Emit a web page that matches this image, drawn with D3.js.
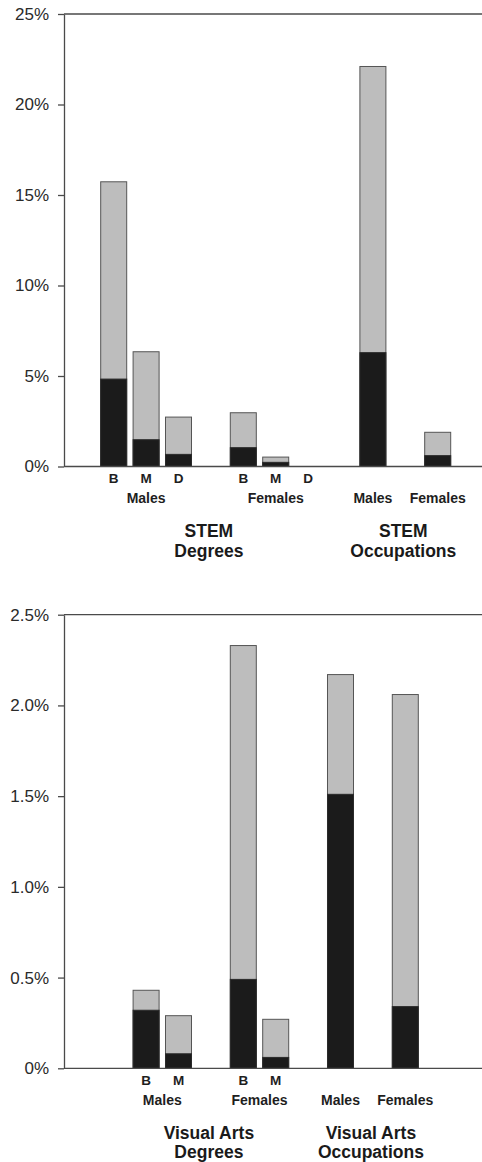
<!DOCTYPE html>
<html><head><meta charset="utf-8">
<script src="https://cdn.jsdelivr.net/npm/d3@7"></script>
<style>
html,body{margin:0;padding:0;background:#fff;}
svg{display:block;}
text{font-family:"Liberation Sans",Arial,Helvetica,sans-serif;}
</style></head>
<body>
<svg id="chart" width="482" height="1162"></svg>
<script>
// ---------- DATA ----------
// STEM panel (percent)
const stemBars   = ["Males B","Males M","Males D","Females B","Females M","Females D","Occ Males","Occ Females"];
const stemTotal  = [15.73, 6.34, 2.73, 2.97, 0.52, 0, 22.1, 1.89];
const stemDark   = [4.83, 1.48, 0.67, 1.04, 0.23, 0, 6.29, 0.60];
const stemBarLabels = ["B","M","D","B","M","D","",""];
const stemTicks  = [0, 5, 10, 15, 20, 25];
const stemTickLabels = ["0%","5%","10%","15%","20%","25%"];

// Visual Arts panel (percent)
const artBars    = ["Males B","Males M","Females B","Females M","Occ Males","Occ Females"];
const artTotal   = [0.43, 0.29, 2.33, 0.27, 2.17, 2.06];
const artDark    = [0.32, 0.08, 0.49, 0.06, 1.51, 0.34];
const artBarLabels = ["B","M","B","M","",""];
const artTicks   = [0, 0.5, 1.0, 1.5, 2.0, 2.5];
const artTickLabels = ["0%","0.5%","1.0%","1.5%","2.0%","2.5%"];

// group labels (text + member bars they sit under)
const stemGroups = [
  {text:"Males",   members:["Males B","Males M","Males D"]},
  {text:"Females", members:["Females B","Females M","Females D"]},
  {text:"Males",   members:["Occ Males"]},
  {text:"Females", members:["Occ Females"]}
];
const stemTitles = [
  {lines:["STEM","Degrees"], between:["Males M","Females M"]},
  {lines:["STEM","Occupations"], between:["Occ Males","Occ Females"]}
];
const artGroups = [
  {text:"Males",   members:["Males B","Males M"]},
  {text:"Females", members:["Females B","Females M"]},
  {text:"Males",   members:["Occ Males"]},
  {text:"Females", members:["Occ Females"]}
];
const artTitles = [
  {lines:["Visual Arts","Degrees"], between:["Males B","Females M"]},
  {lines:["Visual Arts","Occupations"], between:["Occ Males","Occ Females"]}
];

// ---------- LAYOUT (slot order incl. gaps) ----------
const stemSlots = ["_g0","Males B","Males M","Males D","_g1","Females B","Females M","Females D","_g2","Occ Males","_g3","Occ Females","_g4"];
const artSlots  = ["_g0","_g1","Males B","Males M","_g2","Females B","Females M","_g3","Occ Males","_g4","Occ Females","_g5","_g6"];

const GRAY = "#bdbdbd", DARK = "#1b1b1b", EDGE = "#555", AXIS = "#4a4a4a";
const svg = d3.select("#chart");

function panel(cfg){
  const g = svg.append("g");
  const x = d3.scaleBand().domain(cfg.slots).range([68.3, 483.1]).paddingInner(0.1975).paddingOuter(0);
  const y = d3.scaleLinear().domain([0, cfg.max]).range([cfg.y0, cfg.yTop]);
  const axisX = 64;

  g.append("line").attr("x1", axisX).attr("x2", 482).attr("y1", y(cfg.max)).attr("y2", y(cfg.max))
    .attr("stroke", AXIS).attr("stroke-width", 1.3);

  const data = cfg.bars.map((k,i)=>({k, total:cfg.total[i], dark:cfg.dark[i], lab:cfg.labels[i]}));
  const bw = x.bandwidth();
  data.filter(d=>d.total>0).forEach(d=>{
    g.append("rect").attr("x", x(d.k)).attr("width", bw)
      .attr("y", y(d.total)).attr("height", y(0)-y(d.total))
      .attr("fill", GRAY).attr("stroke", EDGE).attr("stroke-width", 1);
    g.append("rect").attr("x", x(d.k)).attr("width", bw)
      .attr("y", y(d.dark)).attr("height", y(0)-y(d.dark))
      .attr("fill", DARK).attr("stroke", "#2a2a2a").attr("stroke-width", 1);
  });

  const ax = d3.axisLeft(y).tickValues(cfg.ticks).tickFormat((d,i)=>cfg.tickLabels[i])
    .tickSizeInner(6).tickSizeOuter(0).tickPadding(9);
  const ag = g.append("g").attr("transform", `translate(${axisX},0)`).call(ax);
  ag.select(".domain").attr("stroke", AXIS).attr("stroke-width", 1.3);
  ag.selectAll(".tick line").attr("stroke", AXIS).attr("stroke-width", 1.3);
  ag.selectAll(".tick text").attr("fill", "#2a2a2a").style("font-size", "17px")
    .style("font-family", '"Liberation Sans",Arial,sans-serif');

  g.append("line").attr("x1", axisX).attr("x2", 482).attr("y1", y(0)).attr("y2", y(0))
    .attr("stroke", AXIS).attr("stroke-width", 1.3);

  data.filter(d=>d.lab).forEach(d=>{
    g.append("text").attr("x", x(d.k)+bw/2).attr("y", y(0)+16.8)
      .attr("text-anchor","middle").attr("font-weight","bold").attr("font-size", 13.5)
      .attr("fill", "#1e1e1e").text(d.lab);
  });
  const cx = k => x(k)+bw/2;
  cfg.groups.forEach(gr=>{
    const c = d3.mean(gr.members, cx);
    g.append("text").attr("x", c).attr("y", y(0)+36.8)
      .attr("text-anchor","middle").attr("font-weight","bold").attr("font-size", 14)
      .attr("fill", "#1e1e1e").text(gr.text);
  });
  cfg.titles.forEach(t=>{
    const c = d3.mean(t.between, cx) - 2;
    t.lines.forEach((ln,i)=>{
      g.append("text").attr("x", c).attr("y", y(0)+70.5+i*19.5)
        .attr("text-anchor","middle").attr("font-weight","bold").attr("font-size", 17.5)
        .attr("fill", "#1a1a1a").text(ln);
    });
  });
}

panel({slots:stemSlots, bars:stemBars, total:stemTotal, dark:stemDark, labels:stemBarLabels,
       ticks:stemTicks, tickLabels:stemTickLabels, max:25, y0:466.5, yTop:14,
       groups:stemGroups, titles:stemTitles});
panel({slots:artSlots, bars:artBars, total:artTotal, dark:artDark, labels:artBarLabels,
       ticks:artTicks, tickLabels:artTickLabels, max:2.5, y0:1068.3, yTop:614.7,
       groups:artGroups, titles:artTitles});
</script>
</body></html>
